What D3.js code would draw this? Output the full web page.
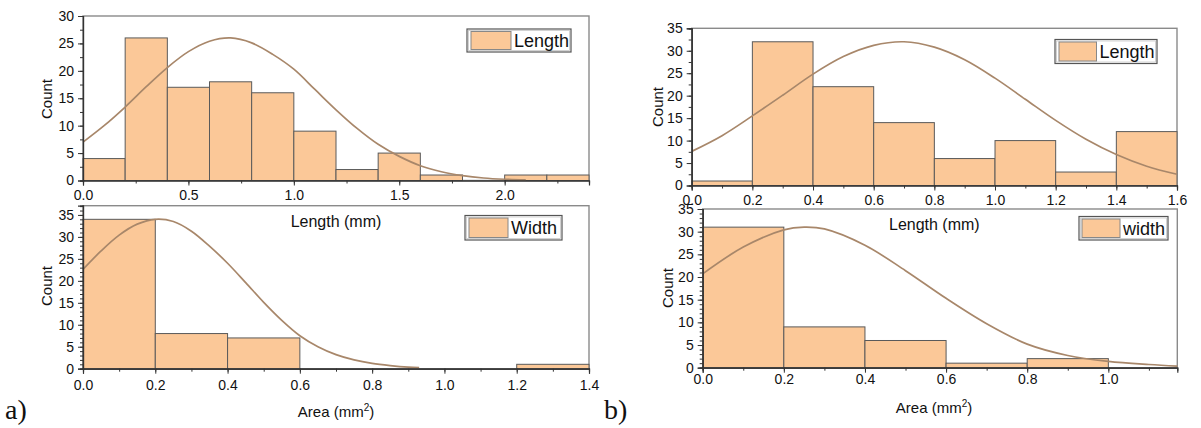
<!DOCTYPE html>
<html><head><meta charset="utf-8">
<script src="https://cdn.jsdelivr.net/npm/d3@7"></script>
<style>
html,body{margin:0;padding:0;background:#fff;}
svg{display:block;font-family:"Liberation Sans",Arial,sans-serif;}
</style></head><body>
<svg id="chart" width="1201" height="428"></svg>
<script>
// ---------- data ----------
const aLengthEdges  = [0,0.2,0.4,0.6,0.8,1.0,1.2,1.4,1.6,1.8,2.0,2.2,2.4];
const aLengthCounts = [4,26,17,18,16,9,2,5,1,0,1,1];
const aLengthFitX   = [0,0.1,0.2,0.3,0.4,0.5,0.6,0.7,0.8,0.9,1.0,1.1,1.2,1.3,1.4,1.5,1.6,1.7,1.8,1.9,2.0,2.1];
const aLengthFitY   = [7.0,10.0,13.4,17.1,20.6,23.5,25.4,26.0,25.1,23.0,20.3,16.6,12.9,9.5,6.6,4.4,2.7,1.6,0.9,0.46,0.23,0.11];
const aLengthXTicks = [0,0.5,1.0,1.5,2.0];

const aWidthEdges   = [0,0.2,0.4,0.6,0.8,1.0,1.2,1.4];
const aWidthCounts  = [34,8,7,0,0,0,1];
const aWidthFitX    = [0,0.05,0.1,0.15,0.2,0.25,0.3,0.35,0.4,0.45,0.5,0.55,0.6,0.65,0.7,0.75,0.8,0.85,0.9,0.93];
const aWidthFitY    = [22.6,26.8,30.4,32.9,34.0,33.5,31.3,27.9,24.0,19.6,15.1,11.0,7.5,5.0,3.2,2.0,1.2,0.7,0.35,0.25];
const aWidthXTicks  = [0,0.2,0.4,0.6,0.8,1.0,1.2,1.4];

const bLengthEdges  = [0,0.2,0.4,0.6,0.8,1.0,1.2,1.4,1.6];
const bLengthCounts = [1,32,22,14,6,10,3,12];
const bLengthFitX   = [0,0.1,0.2,0.3,0.4,0.5,0.6,0.7,0.8,0.9,1.0,1.1,1.2,1.3,1.4,1.5,1.6];
const bLengthFitY   = [7.6,11.1,15.5,20.1,24.8,28.7,31.2,32.0,30.8,28.0,23.9,19.2,14.5,10.3,6.9,4.3,2.5];
const bLengthXTicks = [0,0.2,0.4,0.6,0.8,1.0,1.2,1.4,1.6];

const bWidthEdges   = [0,0.2,0.4,0.6,0.8,1.0];
const bWidthCounts  = [31,9,6,1,2];
const bWidthFitX    = [0,0.1,0.2,0.25,0.3,0.4,0.5,0.6,0.7,0.8,0.9,1.0,1.1,1.17];
const bWidthFitY    = [20.7,26.6,30.4,31.0,30.6,27.0,21.4,15.3,9.7,5.2,2.7,1.4,0.7,0.35];
const bWidthXTicks  = [0,0.2,0.4,0.6,0.8,1.0];

const countTicks30 = [0,5,10,15,20,25,30];
const countTicks35 = [0,5,10,15,20,25,30,35];

const legendNames = ["Length","Width","Length","width"];
const xTitleLength = "Length (mm)";
const yTitle = "Count";

// ---------- drawing ----------
const svg = d3.select("#chart");
const BAR_FILL = "#FBC898", BAR_STROKE = "#5a5a5a", CURVE = "#A8876A";
const fmt = d3.format(".1f");

function panel(cfg){
  const x = d3.scaleLinear().domain(cfg.xDomain).range(cfg.xRange);
  const y = d3.scaleLinear().domain(cfg.yDomain).range(cfg.yRange);
  const g = svg.append("g");
  const [x0,x1] = cfg.xRange, [yb,yt] = cfg.yRange;

  g.append("rect").attr("x",x0).attr("y",yt).attr("width",x1-x0).attr("height",yb-yt)
    .attr("fill","none").attr("stroke","#8a8a8a").attr("stroke-width",1.4);

  const bins = cfg.counts.map((c,i)=>({x0:cfg.edges[i],x1:cfg.edges[i+1],c})).filter(d=>d.c>0);
  g.selectAll("rect.bar").data(bins).join("rect").attr("class","bar")
    .attr("x",d=>x(d.x0)).attr("y",d=>y(d.c))
    .attr("width",d=>x(d.x1)-x(d.x0)).attr("height",d=>y(0)-y(d.c))
    .attr("fill",BAR_FILL).attr("stroke",BAR_STROKE).attr("stroke-width",1);

  const pts = cfg.fitX.map((v,i)=>[v,cfg.fitY[i]]);
  g.append("path").datum(pts)
    .attr("d",d3.line().x(d=>x(d[0])).y(d=>y(d[1])).curve(d3.curveCatmullRom))
    .attr("fill","none").attr("stroke",CURVE).attr("stroke-width",1.7);

  const xAxis = d3.axisBottom(x).tickValues(cfg.xTicks).tickFormat(fmt).tickSize(5).tickPadding(4);
  const xMinor = d3.axisBottom(x).tickValues(d3.range(0,cfg.xDomain[1]+1e-9,cfg.xMinor)).tickFormat("").tickSize(3);
  const yAxis = d3.axisLeft(y).tickValues(cfg.yTicks).tickFormat(d3.format("d")).tickSize(5).tickPadding(4);
  const yMinor = d3.axisLeft(y).tickValues(d3.range(0,cfg.yDomain[1]+1e-9,cfg.yMinor)).tickFormat("").tickSize(3);

  const gx = g.append("g").attr("transform",`translate(0,${yb})`);
  gx.call(xMinor); gx.append("g").call(xAxis);
  const gy = g.append("g").attr("transform",`translate(${x0},0)`);
  gy.call(yMinor); gy.append("g").call(yAxis);
  g.selectAll(".domain").attr("stroke","#333").attr("stroke-width",1.2);
  g.selectAll(".tick line").attr("stroke","#333");
  gx.selectAll("text").attr("font-size",14).attr("fill","#111").attr("font-family","Liberation Sans, Arial, sans-serif")
    .attr("dy",null).attr("y",cfg.xLabelBase-yb);
  gy.selectAll("text").attr("font-size",14).attr("fill","#111").attr("font-family","Liberation Sans, Arial, sans-serif");

  g.append("text").attr("transform",`translate(${cfg.yTitleX},${cfg.yTitleY}) rotate(-90)`)
    .attr("text-anchor","middle").attr("font-size",15).attr("fill","#111").text(yTitle);

  const xt = g.append("text").attr("x",(x0+x1)/2 + (cfg.xTitleDx||0)).attr("y",cfg.xTitleY)
    .attr("text-anchor","middle").attr("font-size",cfg.area?15:16).attr("fill","#111");
  if(cfg.area){
    xt.append("tspan").text("Area (mm");
    xt.append("tspan").attr("font-size",10).attr("dy",-6).text("2");
    xt.append("tspan").attr("dy",6).text(")");
  } else xt.text(xTitleLength);

  const L = cfg.legend;
  g.append("rect").attr("x",L.x).attr("y",L.y).attr("width",L.w).attr("height",L.h)
    .attr("fill","#fff").attr("stroke","#555").attr("stroke-width",1.2);
  g.append("rect").attr("x",L.x+1.5).attr("y",L.y+1.5).attr("width",L.w-3).attr("height",L.h-3)
    .attr("fill","none").attr("stroke","#c8c8c8").attr("stroke-width",0.8);
  g.append("rect").attr("x",L.sx).attr("y",L.y+2.5).attr("width",L.sw).attr("height",L.h-5)
    .attr("fill",BAR_FILL).attr("stroke","#888").attr("stroke-width",1);
  g.append("text").attr("x",L.sx+L.sw+3).attr("y",L.y+L.h/2+6.5).attr("font-size",18).attr("fill","#111").text(L.name);
}

panel({edges:aLengthEdges,counts:aLengthCounts,fitX:aLengthFitX,fitY:aLengthFitY,xTicks:aLengthXTicks,
  xDomain:[0,2.4],xRange:[83,589],yDomain:[0,30],yRange:[180.5,16],yTicks:countTicks30,xMinor:0.25,yMinor:2.5,
  xLabelBase:200,xTitleY:227,yTitleX:52,yTitleY:99,
  legend:{x:467,y:29,w:104,h:23,sx:471,sw:40,name:legendNames[0]}});

panel({edges:aWidthEdges,counts:aWidthCounts,fitX:aWidthFitX,fitY:aWidthFitY,xTicks:aWidthXTicks,
  xDomain:[0,1.4],xRange:[83,589],yDomain:[0,37.1],yRange:[368.7,205.7],yTicks:countTicks35,xMinor:0.1,yMinor:1,
  xLabelBase:390,xTitleY:417,yTitleX:52,yTitleY:286,area:true,
  legend:{x:465,y:215.5,w:97,h:24.5,sx:469,sw:39,name:legendNames[1]}});

panel({edges:bLengthEdges,counts:bLengthCounts,fitX:bLengthFitX,fitY:bLengthFitY,xTicks:bLengthXTicks,
  xDomain:[0,1.6],xRange:[691.7,1177],yDomain:[0,35],yRange:[185.5,28.3],yTicks:countTicks35,xMinor:0.1,yMinor:2.5,
  xLabelBase:205,xTitleY:230,yTitleX:663,yTitleY:107,
  legend:{x:1055,y:39.5,w:102,h:24,sx:1059,sw:37.5,name:legendNames[2]}});

panel({edges:bWidthEdges,counts:bWidthCounts,fitX:bWidthFitX,fitY:bWidthFitY,xTicks:bWidthXTicks,
  xDomain:[0,1.17],xRange:[702.7,1177.3],yDomain:[0,35],yRange:[367.7,209],yTicks:countTicks35,xMinor:0.1,yMinor:1,
  xLabelBase:384.5,xTitleY:413,yTitleX:673,yTitleY:288,area:true,xTitleDx:-6,
  legend:{x:1079,y:216.5,w:89,h:23.5,sx:1082,sw:38,name:legendNames[3]}});

svg.append("text").attr("x",5).attr("y",419).attr("font-family","Liberation Serif, Times New Roman, serif")
  .attr("font-size",28).attr("fill","#111").text("a)");
svg.append("text").attr("x",604).attr("y",419).attr("font-family","Liberation Serif, Times New Roman, serif")
  .attr("font-size",28).attr("fill","#111").text("b)");
</script>
</body></html>
